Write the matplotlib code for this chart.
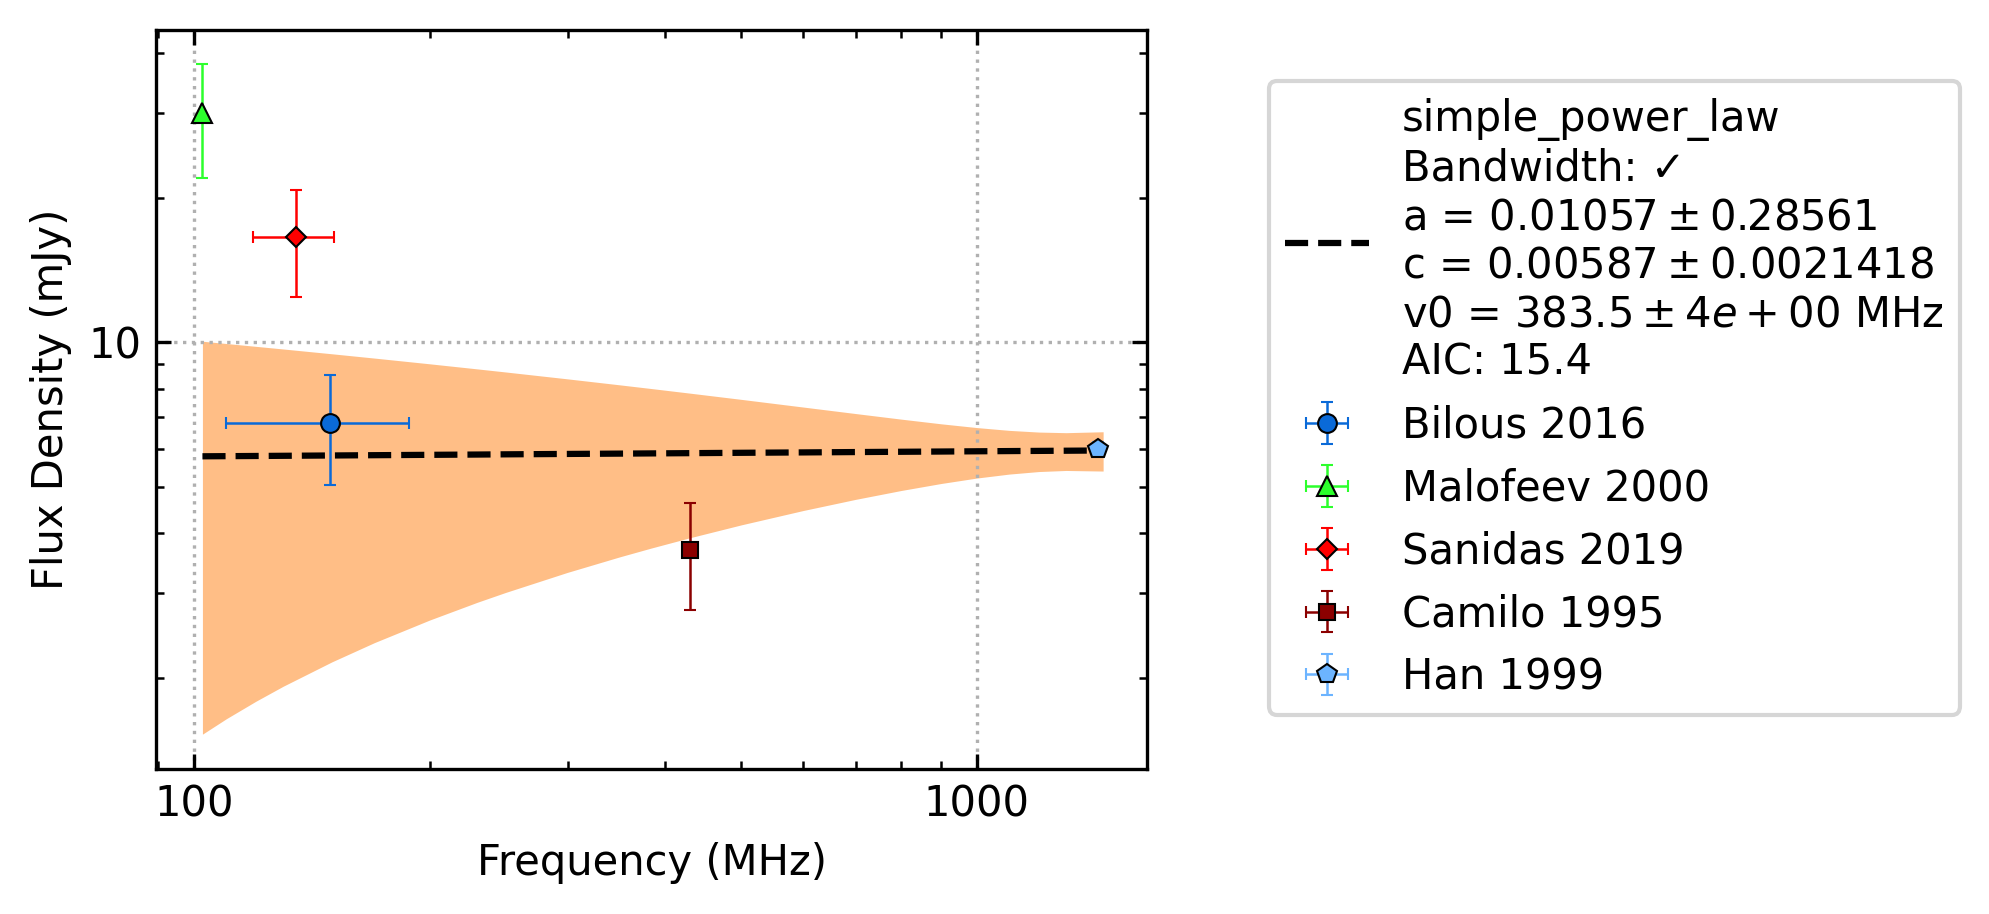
import matplotlib
matplotlib.use("Agg")
import matplotlib.pyplot as plt
import matplotlib.ticker as mticker

# Pontos medidos (MHz, mJy)
rotulos = ["Bilous 2016", "Malofeev 2000", "Sanidas 2019", "Camilo 1995", "Han 1999"]
freq = [149.0, 102.5, 135.0, 430.0, 1430.0]
freq_err = [39.0, 0.0, 16.0, 0.0, 0.0]
fluxo = [6.8, 30.0, 16.6, 3.7, 6.0]
fluxo_err = [1.75, 8.0, 4.15, 0.93, 0.2]
cores = ["#0a6ad8", "#2cff2c", "#ff0000", "#8b0000", "#6cb4ff"]
marcadores = ["o", "^", "D", "s", "p"]
tam_marc = [4.5, 5.0, 3.4, 4.0, 5.0]

# Ajuste simple_power_law e faixa de incerteza
freq_ajuste = [102.5, 110, 120, 130, 150, 170, 200, 230, 250, 300, 350, 383.5,
               430, 500, 600, 700, 800, 900, 1000, 1100, 1200, 1300, 1450]
fluxo_ajuste = [5.789, 5.793, 5.798, 5.803, 5.812, 5.820, 5.830, 5.838, 5.844,
                5.855, 5.864, 5.870, 5.877, 5.887, 5.898, 5.908, 5.916, 5.923,
                5.930, 5.936, 5.941, 5.946, 5.953]
faixa_sup = [10.05, 9.940, 9.806, 9.683, 9.463, 9.270, 9.019, 8.802, 8.673,
             8.391, 8.153, 8.012, 7.836, 7.606, 7.331, 7.106, 6.919, 6.765,
             6.644, 6.555, 6.502, 6.483, 6.512]
faixa_inf = [1.528, 1.646, 1.790, 1.923, 2.161, 2.370, 2.641, 2.875, 3.014,
             3.319, 3.576, 3.728, 3.918, 4.167, 4.464, 4.709, 4.913, 5.081,
             5.216, 5.316, 5.381, 5.409, 5.394]

rotulo_ajuste = ("simple_power_law\n"
                 "Bandwidth: \u2713\n"
                 "a = $0.01057 \\pm 0.28561$\n"
                 "c = $0.00587 \\pm 0.0021418$\n"
                 "v0 = $383.5 \\pm 4e+00$ MHz\n"
                 "AIC: 15.4")

fig = plt.figure(figsize=(6.63, 3.047), dpi=300)
ax = fig.add_axes([0.0786, 0.1586, 0.4982, 0.8086])

ax.fill_between(freq_ajuste, faixa_inf, faixa_sup, color="C1", alpha=0.5,
                linewidth=0, zorder=1)
ax.plot(freq_ajuste, fluxo_ajuste, "k--", lw=1.5, label=rotulo_ajuste, zorder=2)

for i in range(len(rotulos)):
    ax.errorbar(freq[i], fluxo[i], xerr=freq_err[i], yerr=fluxo_err[i],
                fmt=marcadores[i], color=cores[i], ms=tam_marc[i],
                mec="black", mew=0.5, elinewidth=0.6, capsize=1.5,
                capthick=0.6, label=rotulos[i], zorder=3)

ax.set_xscale("log")
ax.set_yscale("log")
ax.set_xlim(89.5, 1651)
ax.set_ylim(1.293, 44.7)

for eixo in (ax.xaxis, ax.yaxis):
    eixo.set_major_formatter(mticker.FormatStrFormatter("%g"))
    eixo.set_minor_formatter(mticker.NullFormatter())

ax.tick_params(which="both", direction="in", top=True, right=True, labelsize=10)
ax.grid(True, which="major", linestyle=":", color="#b0b0b0", lw=0.8)

ax.set_xlabel("Frequency (MHz)", fontsize=10)
ax.set_ylabel("Flux Density (mJy)", fontsize=10)

ax.legend(loc="center left", bbox_to_anchor=(0.6378, 0.5646),
          bbox_transform=fig.transFigure, borderaxespad=0, fontsize=10)

fig.savefig("out.png", dpi=300)
